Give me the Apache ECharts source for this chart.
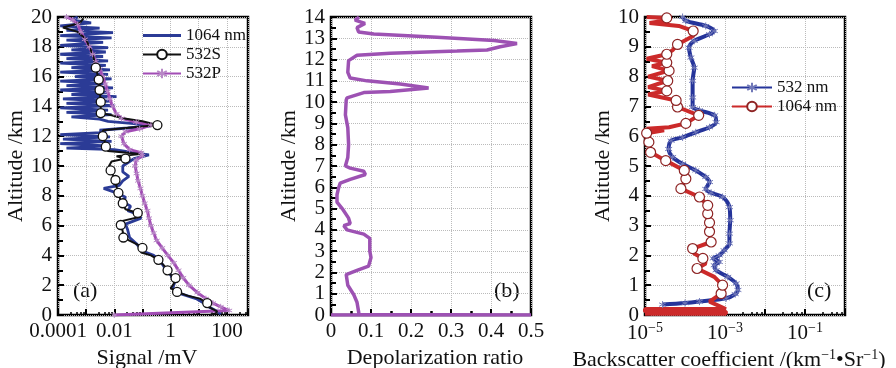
<!DOCTYPE html>
<html>
<head>
<meta charset="utf-8">
<script src="https://cdn.jsdelivr.net/npm/echarts@6/dist/echarts.min.js"></script>
<style>
html, body { margin: 0; padding: 0; background: #fff; }
#chart { width: 896px; height: 368px; }
</style>
</head>
<body>
<div id="chart"></div>
<script>
// ---- panel (a): lidar signals (mV) vs altitude (km) ----
const a1064Alt = [0.05, 0.2, 0.5, 0.8, 1.1, 1.4, 1.8, 2.2, 2.7, 3.2, 3.7, 4.0, 4.3, 4.8, 5.2, 5.7, 6.1, 6.5, 6.8, 7.0, 7.3, 7.6, 7.9, 8.2, 8.5, 8.7, 9.0, 9.3, 9.6, 10.0, 10.3, 10.5, 10.75, 10.9, 11.1,
  11.2, 11.35, 11.5, 11.65, 11.8, 11.95, 12.1, 12.25, 12.4, 12.55, 12.7, 12.85, 13.0, 13.15, 13.3, 13.45, 13.6, 13.75, 13.9, 14.05, 14.2, 14.35, 14.5, 14.65, 14.8, 14.95,
  15.1, 15.25, 15.4, 15.55, 15.7, 15.85, 16.0, 16.15, 16.3, 16.45, 16.6, 16.75, 16.9, 17.05, 17.2, 17.35, 17.5, 17.65, 17.8, 17.95, 18.1, 18.3, 18.45, 18.6, 18.75, 18.95, 19.1, 19.25, 19.4, 19.6, 19.8, 20];
const a1064Val = [60, 50, 25, 15, 8, 2.5, 1.2, 1.4, 1.0, 0.6, 0.4, 0.25, 0.1, 0.06, 0.035, 0.03, 0.025, 0.09, 0.06, 0.03, 0.038, 0.02, 0.025, 0.012, 0.0042, 0.015, 0.02, 0.033, 0.02, 0.02, 0.035, 0.05, 0.17, 0.05, 0.01,
  0.0002, 0.006, 0.00012, 0.008, 0.00015, 0.007, 0.00012, 0.005, 0.003, 0.03, 0.2, 0.05, 0.006, 0.003, 0.0003, 0.008, 0.0002, 0.006, 0.00012, 0.01, 0.0002, 0.007, 0.00015, 0.012, 0.0003, 0.006,
  0.00012, 0.009, 0.0002, 0.005, 0.00012, 0.008, 0.0004, 0.006, 0.00012, 0.007, 0.0003, 0.005, 0.00012, 0.006, 0.0002, 0.004, 0.00012, 0.005, 0.0003, 0.006, 0.00012, 0.004, 0.0002, 0.008, 0.00012, 0.009, 0.0002, 0.003, 0.00012, 0.0015, 0.0003, 0.0005];

const a532SAlt = [0.0, 0.1, 0.25, 0.55, 0.8, 1.1, 1.3, 1.55, 1.8, 2.1, 2.48, 2.7, 3.0, 3.3, 3.7, 4.0, 4.2, 4.5, 4.7, 5.2, 5.6, 6.04, 6.3, 6.6, 6.85, 7.1, 7.5, 7.8, 8.2, 8.6, 9.06, 9.4, 9.7, 10.0, 10.3, 10.5, 10.65, 10.8, 11.0, 11.3, 11.7, 12.0, 12.4, 12.6, 12.75, 13.0, 13.2, 13.4, 13.55, 14.3, 15.1, 15.8, 16.6, 17.0, 17.5, 18.0, 18.5, 19.0, 19.3, 19.6, 19.9];
const a532SVal = [25, 40, 45, 22, 20, 11, 4, 1.7, 1.0, 1.3, 1.5, 1.0, 0.78, 0.6, 0.37, 0.2, 0.09, 0.1, 0.07, 0.021, 0.02, 0.017, 0.018, 0.085, 0.068, 0.025, 0.02, 0.016, 0.014, 0.012, 0.011, 0.009, 0.0074, 0.0065, 0.008, 0.025, 0.012, 0.085, 0.006, 0.005, 0.0045, 0.0039, 0.004, 0.05, 0.34, 0.1, 0.02, 0.008, 0.0033, 0.0033, 0.003, 0.0028, 0.0022, 0.002, 0.0017, 0.0013, 0.001, 0.0005, 0.00015, 0.0006, 0.0008];
const a532SMark = [0, 0, 0, 0, 1, 0, 0, 1, 0, 0, 1, 0, 1, 0, 1, 0, 0, 1, 0, 1, 0, 1, 0, 0, 1, 0, 1, 0, 1, 0, 1, 0, 1, 0, 0, 1, 0, 0, 0, 1, 0, 1, 0, 0, 1, 0, 0, 0, 1, 1, 1, 1, 1, 0, 0, 0, 0, 0, 0, 0, 0];

const a532PAlt = [0, 0.3, 0.55, 0.8, 1.1, 1.5, 2.0, 2.5, 3.0, 3.5, 4.0, 4.5, 5.0, 5.5, 6.0, 6.5, 7.0, 7.5, 8.0, 8.5, 9.0, 9.5, 10.0, 10.4, 10.7, 10.9, 11.1, 11.5, 12.0, 12.3, 12.5, 12.75, 12.95, 13.2, 13.5, 14, 14.5, 15, 15.5, 16, 16.5, 17, 17.5, 18, 18.5, 19, 19.5, 19.8, 20];
const a532PVal = [0.01, 120, 60, 32, 18, 9, 4.5, 2.8, 1.9, 1.3, 0.8, 0.5, 0.32, 0.25, 0.2, 0.17, 0.15, 0.12, 0.1, 0.085, 0.07, 0.062, 0.055, 0.06, 0.1, 0.09, 0.035, 0.022, 0.018, 0.025, 0.08, 0.2, 0.06, 0.018, 0.012, 0.0087, 0.007, 0.0058, 0.0048, 0.0039, 0.003, 0.0022, 0.0017, 0.0013, 0.0009, 0.00065, 0.0005, 0.00034, 0.0002];

const aTickExp = [-4, -2, 0, 2];
const aTickText = ['0.0001', '0.01', '1', '100'];

// ---- panel (b): depolarization ratio ----
const bAlt = [0, 0, 0.02, 0.16, 0.6, 0.95, 1.4, 1.9, 2.1, 2.3, 2.7, 3.0, 3.6, 3.8, 4.0, 4.2, 4.3, 4.55, 5.0, 5.3, 5.65, 5.97, 6.2, 6.37, 6.6, 6.75, 6.9, 7.0, 7.4, 8.0, 8.8, 9.4, 10.1, 10.2, 10.45, 10.5, 10.66, 10.85, 11.0, 11.13, 11.4, 11.95, 12.2, 12.3, 12.4, 12.45, 12.6, 12.75, 12.9, 13.05, 13.2, 13.3, 13.5, 13.7, 13.85, 14];
const bRatio = [0, 0.5, 0.07, 0.069, 0.065, 0.057, 0.042, 0.038, 0.065, 0.094, 0.1, 0.097, 0.097, 0.082, 0.04, 0.032, 0.048, 0.044, 0.028, 0.015, 0.015, 0.019, 0.023, 0.048, 0.086, 0.082, 0.048, 0.036, 0.042, 0.044, 0.042, 0.036, 0.038, 0.04, 0.082, 0.148, 0.244, 0.173, 0.09, 0.048, 0.042, 0.044, 0.065, 0.148, 0.315, 0.39, 0.423, 0.465, 0.408, 0.265, 0.107, 0.069, 0.065, 0.085, 0.06, 0.07];

// ---- panel (c): backscatter coefficient ----
const c532Alt = [0.35, 0.4, 0.45, 0.56, 0.7, 0.84, 1.06, 1.28, 1.5, 1.67, 1.78, 1.9, 2.0, 2.17, 2.4, 2.73, 3.18, 3.62, 3.96, 4.1, 4.23, 4.46, 4.63, 4.85, 5.07, 5.3, 5.57, 5.85, 5.96, 6.13, 6.3, 6.47, 6.7, 6.87, 6.98, 7.3, 7.86, 8.3, 8.64, 8.97, 9.2, 9.42, 9.53, 9.7, 9.87, 10.0];
const c532Val = [2.75e-5, 1e-4, 2.3e-4, 1.07e-3, 1.8e-3, 2.1e-3, 1.9e-3, 1.17e-3, 6e-4, 5.4e-4, 7.2e-4, 5.1e-4, 7.2e-4, 9.5e-4, 1.29e-3, 1.29e-3, 1.35e-3, 1.29e-3, 8.7e-4, 4.5e-4, 3.3e-4, 4.1e-4, 3.3e-4, 1.86e-4, 8.7e-5, 4.9e-5, 3.9e-5, 4.5e-5, 8.7e-5, 1.86e-4, 4.1e-4, 6e-4, 5.5e-4, 2.3e-4, 1.55e-4, 1.55e-4, 1.55e-4, 1.7e-4, 1.4e-4, 1.26e-4, 1.7e-4, 4.1e-4, 5.4e-4, 3.3e-4, 1.05e-4, 8.7e-5];

const c1064Alt = [0.04, 0.04, 0.12, 0.12, 0.2, 0.2, 0.45, 0.72, 1.0, 1.28, 1.56, 1.73, 1.9, 2.06, 2.23, 2.45, 2.8, 3.1, 3.4, 3.68, 3.96, 4.24, 4.57, 4.85, 5.18, 5.46, 5.8, 6.1, 6.2, 6.25, 6.3, 6.43, 6.7, 6.98, 7.2, 7.4, 7.52, 7.65, 7.86, 8.0, 8.2, 8.35, 8.47, 8.6, 8.75, 8.9, 9.08, 9.36, 9.53, 9.7, 9.8, 9.9, 9.97, 10.0];
const c1064Val = [1e-5, 1.05e-3, 1.05e-3, 1e-5, 1e-5, 1.05e-3, 4.1e-4, 8e-4, 8.7e-4, 5.4e-4, 2e-4, 3.3e-4, 2.8e-4, 1.7e-4, 1.55e-4, 4.5e-4, 4.1e-4, 4.1e-4, 3.7e-4, 3.7e-4, 2.3e-4, 7.9e-5, 1.05e-4, 9.6e-5, 3.3e-5, 1.38e-5, 1.25e-5, 1.1e-5, 3e-5, 1.1e-5, 4e-5, 1.05e-4, 2.2e-4, 6.5e-5, 6e-5, 1.2e-5, 3.5e-5, 1.2e-5, 3.7e-5, 1.2e-5, 4e-5, 1.5e-5, 3.5e-5, 1.1e-5, 3.5e-5, 5e-5, 6.5e-5, 1.6e-4, 1.6e-4, 7e-5, 1.3e-5, 4e-5, 3.5e-5, 1.1e-5];
const c1064Mark = [0, 0, 0, 0, 0, 0, 0, 1, 1, 0, 1, 0, 1, 0, 1, 1, 1, 1, 1, 1, 1, 1, 1, 1, 1, 1, 1, 1, 0, 0, 0, 1, 1, 1, 1, 0, 1, 0, 1, 0, 1, 0, 1, 0, 1, 0, 1, 0, 1, 0, 0, 0, 1, 0];

const cTickExp = [-5, -3, -1];

const legendLabels = { a1064: '1064 nm', a532S: '532S', a532P: '532P', c532: '532 nm', c1064: '1064 nm' };

const FONT = '"Liberation Serif", "Times New Roman", serif';
const STAR = 'path://M0,-1L0,1M-0.87,-0.5L0.87,0.5M-0.87,0.5L0.87,-0.5';

function pairs(vals, alts, marks) {
  return vals.map((v, i) => marks ? [v, alts[i], marks[i]] : [v, alts[i]]);
}

function yAxis(idx, max, step) {
  return {
    type: 'value', gridIndex: idx, min: 0, max: max, interval: step,
    name: 'Altitude /km', nameLocation: 'middle', nameGap: 27,
    nameTextStyle: { fontFamily: FONT, fontSize: 22, color: '#111' },
    axisLine: { show: false },
    axisTick: { inside: true, length: 6, lineStyle: { color: '#000', width: 2 } },
    minorTick: { show: true, splitNumber: 2, length: 5, lineStyle: { color: '#000', width: 2 } },
    axisLabel: { fontFamily: FONT, fontSize: 21, color: '#111', margin: 6 },
    splitLine: { show: true, lineStyle: { type: 'dotted', color: '#bbb', width: 1 } }
  };
}

const tickCommon = {
  axisLine: { show: false },
  axisTick: { inside: true, length: 6, lineStyle: { color: '#000', width: 2 } },
  minorTick: { show: true, splitNumber: 5, length: 3, lineStyle: { color: '#000', width: 1.5 } },
  splitLine: { show: true, lineStyle: { type: 'dotted', color: '#bbb', width: 1 } }
};

function isExp(v, list) {
  const l = Math.log10(v);
  const e = Math.round(l);
  if (Math.abs(l - e) > 1e-6) return -1;
  return list.indexOf(e);
}

const chart = echarts.init(document.getElementById('chart'), null, { renderer: 'canvas' });

const gridBase = { top: 17, height: 298, show: true, borderColor: '#000', borderWidth: 2.5, outerBoundsMode: 'none', containLabel: false };

const option = {
  animation: false,
  backgroundColor: '#fff',
  grid: [
    Object.assign({ left: 58, width: 190 }, gridBase),
    Object.assign({ left: 331, width: 200 }, gridBase),
    Object.assign({ left: 645, width: 200 }, gridBase)
  ],
  xAxis: [
    Object.assign({
      type: 'log', gridIndex: 0, min: 1e-4, max: Math.pow(10, 2.75), interval: 1,
      name: 'Signal /mV', nameLocation: 'middle', nameGap: 25,
      nameTextStyle: { fontFamily: FONT, fontSize: 22, color: '#111', padding: [0, 12, 0, 0] },
      axisLabel: {
        fontFamily: FONT, fontSize: 21, color: '#111', margin: 6, showMaxLabel: false,
        formatter: v => { const i = isExp(v, aTickExp); return i < 0 ? '' : aTickText[i]; }
      }
    }, tickCommon),
    Object.assign({
      type: 'value', gridIndex: 1, min: 0, max: 0.5, interval: 0.1,
      name: 'Depolarization ratio', nameLocation: 'middle', nameGap: 25,
      nameTextStyle: { fontFamily: FONT, fontSize: 22, color: '#111', padding: [0, 0, 0, 8] },
      axisLabel: { fontFamily: FONT, fontSize: 21, color: '#111', margin: 6 }
    }, tickCommon, { minorTick: { show: true, splitNumber: 2, length: 4, lineStyle: { color: '#000', width: 2.5 } } }),
    Object.assign({
      type: 'log', gridIndex: 2, min: 1e-5, max: 1, interval: 1,
      name: 'Backscatter coefficient /(km{sup|−1}\u2022Sr{sup|−1})', nameLocation: 'middle', nameGap: 25,
      nameTextStyle: {
        fontFamily: FONT, fontSize: 22, color: '#111', padding: [0, 32, 0, 0],
        rich: { sup: { fontFamily: FONT, fontSize: 14, verticalAlign: 'top', lineHeight: 24 } }
      },
      axisLabel: {
        fontFamily: FONT, fontSize: 21, color: '#111', margin: 6,
        formatter: v => { const i = isExp(v, cTickExp); return i < 0 ? '' : '10{sup|−' + Math.abs(cTickExp[i]) + '}'; },
        rich: { sup: { fontFamily: FONT, fontSize: 14, verticalAlign: 'top', lineHeight: 24 } }
      }
    }, tickCommon)
  ],
  yAxis: [yAxis(0, 20, 2), yAxis(1, 14, 1), yAxis(2, 10, 1)],
  legend: [
    {
      left: 137, top: 22, orient: 'vertical', itemWidth: 38, itemHeight: 12, itemGap: 2,
      selectedMode: false,
      data: [{ name: 'a1064', icon: 'path://M0,0H40V3H0Z' }, 'a532S', 'a532P'],
      formatter: n => legendLabels[n],
      textStyle: { fontFamily: FONT, fontSize: 17, color: '#111', lineHeight: 17 }
    },
    {
      left: 726, top: 74, orient: 'vertical', itemWidth: 40, itemHeight: 12, itemGap: 2,
      selectedMode: false, data: ['c532', 'c1064'],
      formatter: n => legendLabels[n],
      textStyle: { fontFamily: FONT, fontSize: 17, color: '#111', lineHeight: 17 }
    }
  ],
  graphic: [
    { type: 'text', left: 73, top: 280, style: { text: '(a)', font: '22px ' + FONT, fill: '#111' } },
    { type: 'text', left: 494, top: 280, style: { text: '(b)', font: '22px ' + FONT, fill: '#111' } },
    { type: 'text', left: 807, top: 280, style: { text: '(c)', font: '22px ' + FONT, fill: '#111' } }
  ],
  series: [
    {
      name: 'a1064', type: 'line', xAxisIndex: 0, yAxisIndex: 0, symbol: 'none',
      data: pairs(a1064Val, a1064Alt),
      lineStyle: { color: '#2b3b96', width: 2.8 }, itemStyle: { color: '#2b3b96' }
    },
    {
      name: 'a532P', type: 'line', xAxisIndex: 0, yAxisIndex: 0,
      symbol: STAR, symbolSize: 6,
      data: pairs(a532PVal, a532PAlt),
      lineStyle: { color: '#a24db5', width: 3 },
      itemStyle: { color: 'rgba(0,0,0,0)', borderColor: '#b888c6', borderWidth: 1 }
    },
    {
      name: 'a532S', type: 'line', xAxisIndex: 0, yAxisIndex: 0,
      symbol: 'circle', symbolSize: v => v[2] ? 9 : 0,
      data: pairs(a532SVal, a532SAlt, a532SMark),
      lineStyle: { color: '#111', width: 2 },
      itemStyle: { color: '#fff', borderColor: '#111', borderWidth: 1.3 }
    },
    {
      name: 'b', type: 'line', xAxisIndex: 1, yAxisIndex: 1, symbol: 'none',
      data: pairs(bRatio, bAlt),
      lineStyle: { color: '#9d52b3', width: 3.5 }
    },
    {
      name: 'c532', type: 'line', xAxisIndex: 2, yAxisIndex: 2,
      symbol: STAR, symbolSize: 7, smooth: 0.3,
      data: pairs(c532Val, c532Alt),
      lineStyle: { color: '#25349a', width: 4 },
      itemStyle: { color: 'rgba(0,0,0,0)', borderColor: '#7078b8', borderWidth: 1 }
    },
    {
      name: 'c1064', type: 'line', xAxisIndex: 2, yAxisIndex: 2,
      symbol: 'circle', symbolSize: v => v[2] ? 10 : 0,
      data: pairs(c1064Val, c1064Alt, c1064Mark),
      lineStyle: { color: '#cc2a2a', width: 4 },
      itemStyle: { color: '#fff', borderColor: '#8e2424', borderWidth: 1.2 }
    }
  ]
};

chart.setOption(option);
</script>
</body>
</html>
